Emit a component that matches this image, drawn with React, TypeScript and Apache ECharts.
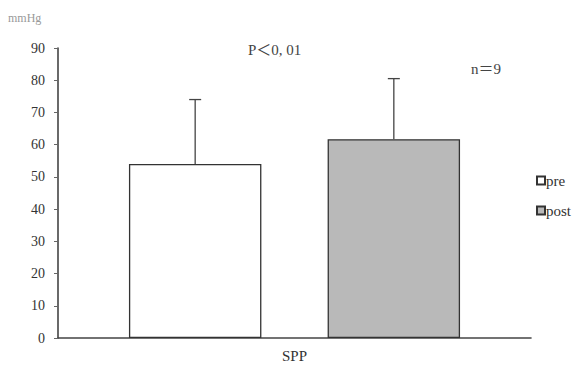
import React, { useEffect, useRef } from "react";
import * as echarts from "echarts";

const categories = ["SPP"];
const seriesNames = ["pre", "post"];
const meanValues = [54, 61.7];
const errorTops = [74, 80.5];
const yTicks = [0, 10, 20, 30, 40, 50, 60, 70, 80, 90];

const BAR_PCT = 0.28;
const GAP_PCT = 0.5;
const FONT = "'Liberation Serif', 'DejaVu Serif', 'Noto Sans CJK JP', serif";

export default function App() {
  const ref = useRef<HTMLDivElement>(null);
  useEffect(() => {
    if (!ref.current) return;
    const chart = echarts.init(ref.current, undefined, { renderer: "svg" });
    const colors = ["#ffffff", "#b9b9b9"];
    const barSeries = seriesNames.map((name, i) => ({
      name,
      type: "bar",
      data: [meanValues[i]],
      barWidth: BAR_PCT * 100 + "%",
      barGap: GAP_PCT * 100 + "%",
      itemStyle: { color: colors[i], borderColor: "#333", borderWidth: 1.3 },
      z: 2,
    }));
    const errSeries = seriesNames.map((name, i) => ({
      name: name + "-err",
      type: "custom",
      data: [[0, meanValues[i], errorTops[i]]],
      z: 3,
      renderItem: (params: any, api: any) => {
        const band = api.size([1, 0])[0];
        const bw = band * BAR_PCT;
        const gap = bw * GAP_PCT;
        const total = bw * 2 + gap;
        const base = api.coord([api.value(0), api.value(1)]);
        const top = api.coord([api.value(0), api.value(2)]);
        const cx = base[0] - total / 2 + bw / 2 + i * (bw + gap);
        const style = { stroke: "#444", lineWidth: 1.3 };
        return {
          type: "group",
          children: [
            { type: "line", shape: { x1: cx, y1: base[1], x2: cx, y2: top[1] }, style },
            { type: "line", shape: { x1: cx - 6, y1: top[1], x2: cx + 6, y2: top[1] }, style },
          ],
        };
      },
    }));
    chart.setOption({
      animation: false,
      backgroundColor: "#ffffff",
      grid: { left: 58, right: 50, top: 48, bottom: 29 },
      legend: {
        data: seriesNames,
        orient: "vertical",
        left: 531,
        top: 168,
        itemWidth: 8,
        itemHeight: 8,
        itemGap: 15,
        icon: "rect",
        textStyle: { fontFamily: FONT, fontSize: 15, color: "#333", padding: [0, 0, 0, -4] },
      },
      xAxis: {
        type: "category",
        data: categories,
        axisLine: { lineStyle: { color: "#444", width: 1.6 } },
        axisTick: { show: false },
        axisLabel: { fontFamily: FONT, fontSize: 15, color: "#333", margin: 10 },
      },
      yAxis: {
        type: "value",
        min: yTicks[0],
        max: yTicks[yTicks.length - 1],
        interval: 10,
        splitLine: { show: false },
        axisLine: { show: true, lineStyle: { color: "#444", width: 1.6 } },
        axisTick: { show: true, length: 4, lineStyle: { color: "#666" } },
        axisLabel: { fontFamily: FONT, fontSize: 14, color: "#333", margin: 13 },
      },
      graphic: [
        { type: "text", left: 8, top: 12, style: { text: "mmHg", fontFamily: FONT, fontSize: 12, fill: "#999" } },
        { type: "text", left: 248, top: 42, style: { text: "P＜0, 01", fontFamily: FONT, fontSize: 15, fill: "#444" } },
        { type: "text", left: 471, top: 61, style: { text: "n＝9", fontFamily: FONT, fontSize: 15, fill: "#444" } },
      ],
      series: [...barSeries, ...errSeries],
    });
    return () => chart.dispose();
  }, []);
  return <div ref={ref} style={{ width: 581, height: 367, position: "absolute", left: 0, top: 0 }} />;
}
